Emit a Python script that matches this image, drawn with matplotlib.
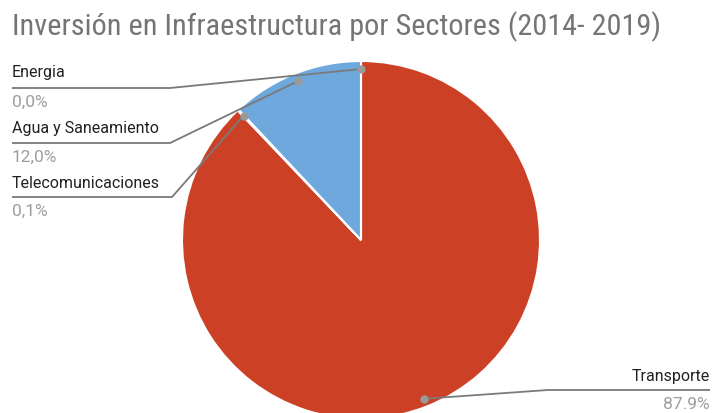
import numpy as np
import matplotlib
matplotlib.use("Agg")
import matplotlib.pyplot as plt

TITLE = "Inversión en Infraestructura por Sectores (2014- 2019)"
SECTORS = ["Transporte", "Telecomunicaciones", "Agua y Saneamiento", "Energia"]
SHARES = [87.9, 0.1, 12.0, 0.0]
PCT_LABELS = ["87.9%", "0,1%", "12,0%", "0,0%"]
COLORS = ["#cc4125", "#f1c232", "#6fa8dc", "#93c47d"]

TITLE_FONT = ["Roboto Condensed", "DejaVu Sans"]
FONT = ["Roboto", "DejaVu Sans"]
W, H = 713, 413
CX, CY, R = 361, 240, 179

fig = plt.figure(figsize=(W / 100, H / 100), dpi=100)
ax = fig.add_axes([0, 0, 1, 1])
wedges, _ = ax.pie(SHARES, colors=COLORS, startangle=90, counterclock=False,
                   center=(CX, H - CY), radius=R,
                   wedgeprops=dict(edgecolor="white", linewidth=1.5))
ax.set_xlim(0, W)
ax.set_ylim(0, H)
ax.axis("off")
ax.set_aspect("equal")

fig.text(12 / W, 1 - 27 / H, TITLE, fontsize=21.8, color="#757575",
         family=TITLE_FONT, va="center", ha="left")

# label placement (pixel coords from top): text y, underline y, elbow x, side
layout = {
    "Energia": (73, 88, 170, "left"),
    "Agua y Saneamiento": (128, 143, 170, "left"),
    "Telecomunicaciones": (183, 197, 172, "left"),
    "Transporte": (377, 390, 548, "right"),
}

total = sum(SHARES)
cum = 0.0
for name, share, pct, w in zip(SECTORS, SHARES, PCT_LABELS, wedges):
    mid = 90 - (cum + share / 2) / total * 360
    cum += share
    dx = CX + 0.955 * R * np.cos(np.radians(mid))
    dy = H - CY + 0.955 * R * np.sin(np.radians(mid))
    ty, ly, ex, side = layout[name]
    ty, ly = H - ty, H - ly
    if side == "left":
        x0, ha, tx = 12, "left", 12
    else:
        x0, ha, tx = 710, "right", 710
    ax.plot([x0, ex, dx], [ly, ly, dy], color="#7a7a7a", lw=1.3,
            solid_capstyle="butt", zorder=3)
    ax.plot(dx, dy, "o", color="#9a9a9a", ms=5, zorder=4)
    ax.text(tx, ty, name, fontsize=11.5, color="#212121", family=FONT,
            ha=ha, va="center")
    ax.text(tx, ly - 14.5, pct, fontsize=12.5, color="#9e9e9e", family=FONT,
            ha=ha, va="center")

fig.savefig("out.png", dpi=100)
